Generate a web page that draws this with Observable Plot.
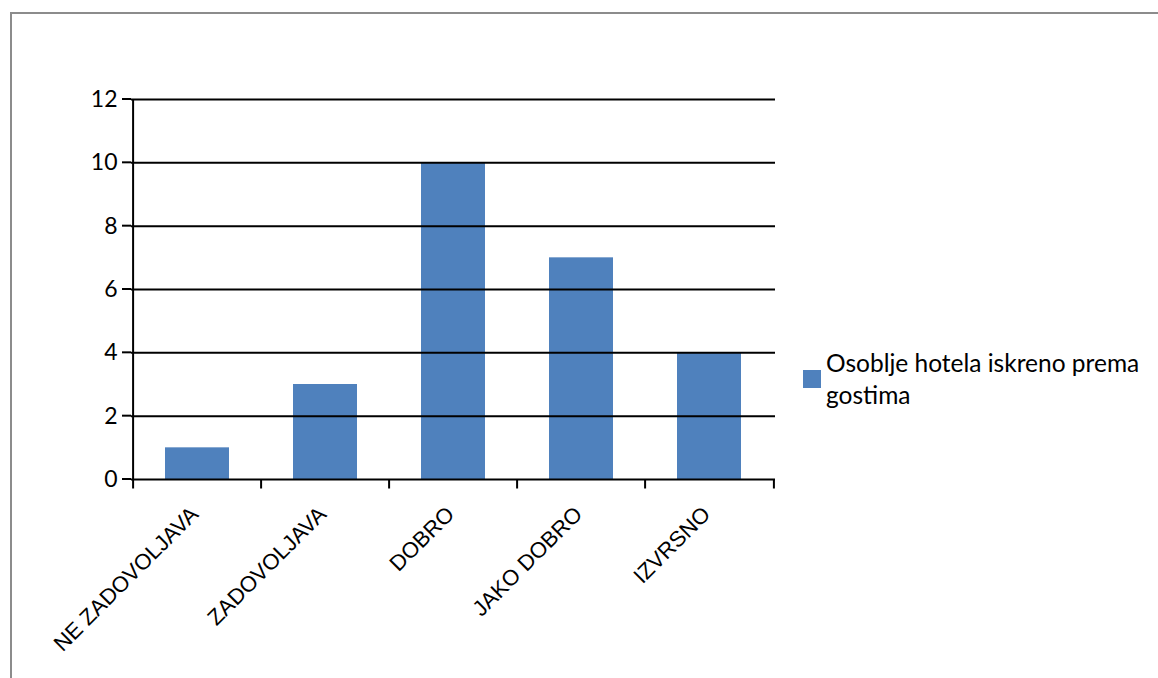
<!DOCTYPE html>
<html>
<head>
<meta charset="utf-8">
<script src="https://cdn.jsdelivr.net/npm/d3@7"></script>
<script src="https://cdn.jsdelivr.net/npm/@observablehq/plot@0.6"></script>
<style>
  html, body { margin: 0; padding: 0; background: #fff; }
  #wrap { position: relative; width: 1158px; height: 678px; overflow: hidden; }
  #frame { position: absolute; left: 10px; top: 12px; width: 1200px; height: 720px;
           border-top: 2px solid #8c8c8c; border-left: 2px solid #8c8c8c; box-sizing: border-box; }
  #chart { position: absolute; left: 0; top: 0; }
  #legend { position: absolute; left: 803px; top: 347px; font-family: Lato, "Open Sans", sans-serif;
            font-size: 24.5px; line-height: 32px; color: #000; }
  #legend .sw { position: absolute; left: 0; top: 23px; width: 18px; height: 18px; background: #4f81bd; }
  #legend .tx { margin-left: 23px; width: 332px; }
</style>
</head>
<body>
<div id="wrap">
  <div id="frame"></div>
  <div id="chart"></div>
  <div id="legend"><div class="sw"></div><div class="tx" id="legtext"></div></div>
</div>
<script>
const categories = ["NE ZADOVOLJAVA", "ZADOVOLJAVA", "DOBRO", "JAKO DOBRO", "IZVRSNO"];
const values = [1, 3, 10, 7, 4];
const yTicks = [0, 2, 4, 6, 8, 10, 12];
const seriesName = "Osoblje hotela iskreno prema gostima";

const data = categories.map((c, i) => ({category: c, value: values[i]}));

const W = 1158, H = 678;
const mL = 131, mR = W - 775, mT = 99, mB = H - 479;
const step = (W - mL - mR) / categories.length;

const chart = Plot.plot({
  width: W,
  height: H,
  marginLeft: mL,
  marginRight: mR,
  marginTop: mT,
  marginBottom: mB,
  style: {background: "transparent", overflow: "visible"},
  x: {domain: categories, paddingInner: 0.5, paddingOuter: 0.25, axis: null},
  y: {domain: [0, 12], axis: null},
  marks: [
    // bars
    Plot.barY(data, {x: "category", y: "value", fill: "#4f81bd"}),
    // gridlines
    Plot.ruleY(yTicks.filter(d => d > 0), {y: d => d, stroke: "#000", strokeWidth: 2}),
    // y axis line
    Plot.ruleX([0], {x: () => categories[0], dx: -step / 2, y1: 0, y2: 12, stroke: "#000", strokeWidth: 2}),
    // x axis line
    Plot.ruleY([0], {y: 0, stroke: "#000", strokeWidth: 2}),
    // y tick labels
    Plot.text(yTicks, {y: d => d, text: d => String(d), frameAnchor: "left", dx: -14, textAnchor: "end",
      fontSize: 23, fontFamily: "Lato, 'Open Sans', sans-serif", fill: "#000"}),
    // x tick marks at band boundaries
    Plot.ruleX(categories, {x: d => d, dx: -step / 2, y1: 0, y2: -0.3, stroke: "#000", strokeWidth: 2}),
    Plot.ruleX([categories[categories.length - 1]], {x: d => d, dx: step / 2, y1: 0, y2: -0.3, stroke: "#000", strokeWidth: 2}),
    // x tick labels rotated
    Plot.text(categories, {x: d => d, y: 0, text: d => d, rotate: -45, textAnchor: "end", lineAnchor: "top",
      dx: -9, dy: 25, fontSize: 22, fontFamily: "'Liberation Sans', Arial, sans-serif", fill: "#000"})
  ]
});
document.getElementById("chart").appendChild(chart);

// y-axis outward ticks drawn via the library's y scale
const ys = chart.scale("y");
const svg = d3.select(chart);
svg.append("g").selectAll("line").data(yTicks).join("line")
  .attr("x1", mL - 9).attr("x2", mL)
  .attr("y1", d => ys.apply(d)).attr("y2", d => ys.apply(d))
  .attr("stroke", "#000").attr("stroke-width", 2);

document.getElementById("legtext").textContent = seriesName;
</script>
</body>
</html>
